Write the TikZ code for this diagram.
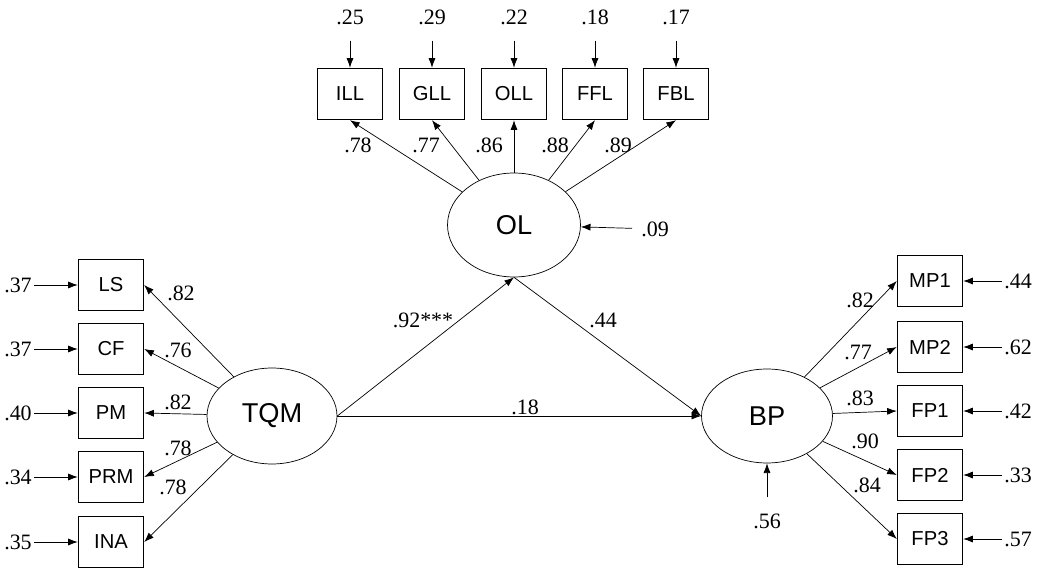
\documentclass[tikz,border=0pt]{standalone}
\usepackage{fontspec}
\setmainfont{Liberation Serif}
\setsansfont{Liberation Sans}
\usetikzlibrary{arrows.meta,shapes.geometric}

\tikzset{
  indbox/.style={draw, thick, minimum width=1.3cm, minimum height=1.02cm, inner sep=0pt, font=\sffamily\fontsize{11.5}{13}\selectfont},
  latent/.style={draw, ellipse, inner sep=0pt, font=\sffamily\fontsize{15.5}{18}\selectfont},
  coef/.style={font=\fontsize{12.5}{14}\selectfont, inner sep=1pt},
  path/.style={->, thin}
}

\begin{document}
\begin{tikzpicture}[x=0.02cm, y=-0.02cm, >={Latex[length=5.5pt,width=4pt]}]

        \useasboundingbox (0,0) rectangle (1041,570);

        % Latent variables
        \node[latent, minimum width=2.6cm, minimum height=1.92cm] (TQM) at (272,416) {TQM};
        \node[latent, minimum width=2.66cm, minimum height=2.08cm] (OL) at (514,225) {OL};
        \node[latent, minimum width=2.62cm, minimum height=1.88cm] (BP) at (767,416) {BP};

        % Indicators of OL
        \node[indbox] (ILL) at (350,94) {ILL};
        \node[indbox] (GLL) at (432,94) {GLL};
        \node[indbox] (OLL) at (514,94) {OLL};
        \node[indbox] (FFL) at (595,94) {FFL};
        \node[indbox] (FBL) at (676,94) {FBL};

        % Indicators of TQM
        \node[indbox] (LS) at (111,285) {LS};
        \node[indbox] (CF) at (111,349) {CF};
        \node[indbox] (PM) at (111,413) {PM};
        \node[indbox] (PRM) at (111,477) {PRM};
        \node[indbox] (INA) at (111,542) {INA};

        % Indicators of BP
        \node[indbox] (MP1) at (930,281) {MP1};
        \node[indbox] (MP2) at (930,347) {MP2};
        \node[indbox] (FP1) at (930,411) {FP1};
        \node[indbox] (FP2) at (930,475) {FP2};
        \node[indbox] (FP3) at (930,539) {FP3};

        % Error terms
        \node[coef] (eILL) at (350,17) {.25};
        \node[coef] (eGLL) at (432,17) {.29};
        \node[coef] (eOLL) at (514,17) {.22};
        \node[coef] (eFFL) at (595,17) {.18};
        \node[coef] (eFBL) at (676,17) {.17};
        \node[coef] (eOL) at (655,229) {.09};
        \node[coef] (eBP) at (767,521) {.56};
        \node[coef] (eLS) at (18,285) {.37};
        \node[coef] (eCF) at (18,349) {.37};
        \node[coef] (ePM) at (18,413) {.40};
        \node[coef] (ePRM) at (18,477) {.34};
        \node[coef] (eINA) at (18,542) {.35};
        \node[coef] (eMP1) at (1018,281) {.44};
        \node[coef] (eMP2) at (1018,347) {.62};
        \node[coef] (eFP1) at (1018,411) {.42};
        \node[coef] (eFP2) at (1018,475) {.33};
        \node[coef] (eFP3) at (1018,539) {.57};

        \draw[path, shorten <=8pt] (eILL) -- (ILL);
        \draw[path, shorten <=8pt] (eGLL) -- (GLL);
        \draw[path, shorten <=8pt] (eOLL) -- (OLL);
        \draw[path, shorten <=8pt] (eFFL) -- (FFL);
        \draw[path, shorten <=8pt] (eFBL) -- (FBL);
        \draw[path, shorten <=4pt] (eOL) -- (OL);
        \draw[path, shorten <=8pt] (eBP) -- (BP);
        \draw[path] (eLS) -- (LS);
        \draw[path] (eCF) -- (CF);
        \draw[path] (ePM) -- (PM);
        \draw[path] (ePRM) -- (PRM);
        \draw[path] (eINA) -- (INA);
        \draw[path] (eMP1) -- (MP1);
        \draw[path] (eMP2) -- (MP2);
        \draw[path] (eFP1) -- (FP1);
        \draw[path] (eFP2) -- (FP2);
        \draw[path] (eFP3) -- (FP3);

        % Loadings of OL
        \draw[path] (OL) -- (ILL.south);
        \draw[path] (OL) -- (GLL.south);
        \draw[path] (OL) -- (OLL.south);
        \draw[path] (OL) -- (FFL.south);
        \draw[path] (OL) -- (FBL.south);
        \node[coef] (lILL) at (358,145) {.78};
        \node[coef] (lGLL) at (426,145) {.77};
        \node[coef] (lOLL) at (489,145) {.86};
        \node[coef] (lFFL) at (555,145) {.88};
        \node[coef] (lFBL) at (618,145) {.89};

        % Loadings of TQM
        \draw[path] (TQM) -- (LS.east);
        \draw[path] (TQM) -- (CF.east);
        \draw[path] (TQM) -- (PM.east);
        \draw[path] (TQM) -- (PRM.east);
        \draw[path] (TQM) -- (INA.east);
        \node[coef] (lLS) at (181,293) {.82};
        \node[coef] (lCF) at (178,350) {.76};
        \node[coef] (lPM) at (178,402) {.82};
        \node[coef] (lPRM) at (178,448) {.78};
        \node[coef] (lINA) at (173,487) {.78};

        % Loadings of BP
        \draw[path] (BP) -- (MP1.west);
        \draw[path] (BP) -- (MP2.west);
        \draw[path] (BP) -- (FP1.west);
        \draw[path] (BP) -- (FP2.west);
        \draw[path] (BP) -- (FP3.west);
        \node[coef] (lMP1) at (860,300) {.82};
        \node[coef] (lMP2) at (858,352) {.77};
        \node[coef] (lFP1) at (860,398) {.83};
        \node[coef] (lFP2) at (865,441) {.90};
        \node[coef] (lFP3) at (867,485) {.84};

        % Structural paths
        \draw[path] (TQM.east) -- (OL.south);
        \draw[path] (OL.south) -- (BP.west);
        \draw[path] (TQM.east) -- (BP.west);
        \node[coef] (bTO) at (423,320) {.92***};
        \node[coef] (bOB) at (603,320) {.44};
        \node[coef] (bTB) at (525,407) {.18};

    \end{tikzpicture}
\end{document}
